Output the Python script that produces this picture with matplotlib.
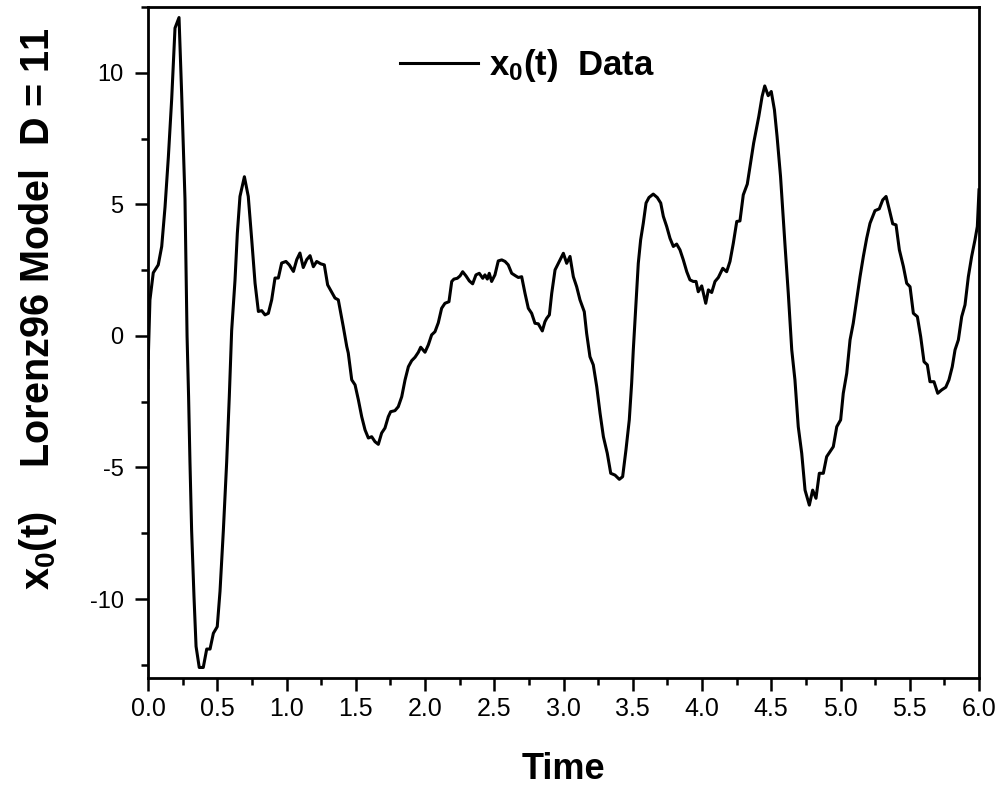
import matplotlib
matplotlib.use("Agg")
import matplotlib.pyplot as plt
from matplotlib.ticker import MultipleLocator

# ---- data ----
time = [0.000, 0.014, 0.038, 0.074, 0.099, 0.123, 0.147, 0.171, 0.195, 0.224,
        0.243, 0.267, 0.282, 0.293, 0.303, 0.315, 0.332, 0.347, 0.370, 0.399,
        0.424, 0.448, 0.472, 0.500, 0.520, 0.544, 0.568, 0.587, 0.604, 0.628,
        0.645, 0.664, 0.696, 0.724, 0.749, 0.773, 0.797, 0.821, 0.845, 0.869,
        0.893, 0.917, 0.941, 0.965, 0.996, 1.020, 1.050, 1.074, 1.097, 1.121,
        1.146, 1.170, 1.194, 1.218, 1.247, 1.273, 1.297, 1.326, 1.350, 1.374,
        1.410, 1.435, 1.446, 1.471, 1.495, 1.519, 1.543, 1.567, 1.591, 1.615,
        1.639, 1.663, 1.687, 1.711, 1.735, 1.752, 1.783, 1.807, 1.832, 1.856,
        1.880, 1.904, 1.928, 1.952, 1.969, 2.000, 2.024, 2.048, 2.072, 2.096,
        2.120, 2.144, 2.173, 2.193, 2.209, 2.233, 2.253, 2.272, 2.296, 2.320,
        2.344, 2.368, 2.392, 2.417, 2.433, 2.450, 2.464, 2.481, 2.505, 2.529,
        2.554, 2.578, 2.601, 2.626, 2.655, 2.674, 2.698, 2.722, 2.746, 2.770,
        2.794, 2.818, 2.847, 2.866, 2.879, 2.898, 2.915, 2.939, 2.963, 2.999,
        3.023, 3.047, 3.071, 3.095, 3.119, 3.150, 3.167, 3.191, 3.215, 3.240,
        3.264, 3.288, 3.316, 3.341, 3.372, 3.403, 3.427, 3.451, 3.475, 3.492,
        3.504, 3.521, 3.540, 3.557, 3.576, 3.596, 3.617, 3.648, 3.677, 3.702,
        3.721, 3.745, 3.769, 3.793, 3.817, 3.841, 3.865, 3.890, 3.913, 3.937,
        3.957, 3.973, 3.998, 4.027, 4.046, 4.070, 4.094, 4.118, 4.150, 4.178,
        4.202, 4.226, 4.251, 4.274, 4.298, 4.327, 4.347, 4.373, 4.410, 4.434,
        4.453, 4.478, 4.500, 4.523, 4.542, 4.567, 4.600, 4.623, 4.648, 4.671,
        4.695, 4.720, 4.744, 4.775, 4.799, 4.823, 4.847, 4.876, 4.900, 4.924,
        4.948, 4.973, 5.001, 5.020, 5.045, 5.069, 5.092, 5.117, 5.141, 5.165,
        5.189, 5.213, 5.249, 5.280, 5.305, 5.329, 5.353, 5.377, 5.401, 5.425,
        5.454, 5.478, 5.502, 5.526, 5.555, 5.579, 5.603, 5.627, 5.646, 5.675,
        5.702, 5.731, 5.760, 5.783, 5.807, 5.827, 5.851, 5.875, 5.899, 5.923,
        5.947, 5.971, 5.988, 6.000]

x0 = [-1.20, 1.37, 2.40, 2.70, 3.40, 4.90, 6.80, 9.00, 11.70, 12.10,
      9.20, 5.20, 0.00, -2.30, -4.80, -7.40, -9.90, -11.80, -12.60, -12.60,
      -11.90, -11.90, -11.30, -11.05, -9.70, -7.40, -4.80, -2.30, 0.20, 2.10,
      3.90, 5.30, 6.05, 5.30, 3.65, 2.00, 0.93, 0.96, 0.80, 0.86,
      1.37, 2.20, 2.20, 2.77, 2.83, 2.70, 2.45, 2.90, 3.15, 2.60,
      2.90, 3.05, 2.63, 2.83, 2.74, 2.70, 1.94, 1.67, 1.44, 1.37,
      0.35, -0.40, -0.65, -1.67, -1.86, -2.43, -3.07, -3.57, -3.88, -3.83,
      -4.02, -4.12, -3.69, -3.50, -3.07, -2.88, -2.84, -2.69, -2.31, -1.67,
      -1.17, -0.94, -0.81, -0.62, -0.43, -0.62, -0.34, 0.04, 0.16, 0.50,
      1.05, 1.24, 1.30, 2.07, 2.16, 2.19, 2.28, 2.44, 2.28, 2.09,
      1.98, 2.32, 2.38, 2.19, 2.32, 2.16, 2.38, 2.07, 2.32, 2.85,
      2.89, 2.83, 2.70, 2.38, 2.28, 2.22, 2.25, 1.62, 1.05, 0.86,
      0.48, 0.46, 0.19, 0.54, 0.67, 0.80, 1.62, 2.51, 2.76, 3.14,
      2.76, 3.02, 2.25, 1.87, 1.37, 0.92, 0.10, -0.79, -1.10, -1.93,
      -2.94, -3.83, -4.46, -5.22, -5.29, -5.45, -5.35, -4.33, -3.19, -1.80,
      -0.53, 0.99, 2.76, 3.65, 4.28, 5.05, 5.26, 5.39, 5.26, 5.05,
      4.54, 4.16, 3.71, 3.40, 3.49, 3.27, 2.89, 2.44, 2.13, 2.07,
      2.07, 1.68, 1.90, 1.24, 1.75, 1.65, 2.07, 2.22, 2.57, 2.44,
      2.83, 3.52, 4.35, 4.37, 5.36, 5.77, 6.44, 7.33, 8.34, 9.10,
      9.50, 9.13, 9.29, 8.59, 7.58, 6.06, 3.40, 1.62, -0.53, -1.67,
      -3.45, -4.46, -5.86, -6.43, -5.86, -6.17, -5.22, -5.22, -4.59, -4.40,
      -4.21, -3.45, -3.19, -2.18, -1.42, -0.15, 0.48, 1.37, 2.25, 3.02,
      3.71, 4.28, 4.76, 4.83, 5.17, 5.30, 4.79, 4.26, 4.22, 3.27,
      2.64, 2.00, 1.87, 0.86, 0.73, -0.03, -0.98, -1.10, -1.74, -1.74,
      -2.18, -2.05, -1.95, -1.67, -1.17, -0.53, -0.15, 0.73, 1.18, 2.25,
      3.02, 3.65, 4.16, 5.55]

x_ticks = [0.0, 0.5, 1.0, 1.5, 2.0, 2.5, 3.0, 3.5, 4.0, 4.5, 5.0, 5.5, 6.0]
y_ticks = [-10, -5, 0, 5, 10]
legend_label = r"x$_\mathbf{0}$(t)  Data"
x_label = "Time"
y_label = r"x$_\mathbf{0}$(t)    Lorenz96 Model  D = 11"

# ---- style ----
plt.rcParams['font.family'] = ['Liberation Sans', 'DejaVu Sans']
plt.rcParams['mathtext.fontset'] = 'custom'
plt.rcParams['mathtext.rm'] = 'Liberation Sans'
plt.rcParams['mathtext.bf'] = 'Liberation Sans:bold'
plt.rcParams['mathtext.it'] = 'Liberation Sans:italic'

fig = plt.figure(figsize=(10.01, 7.86), dpi=100)
ax = fig.add_axes([148/1001, 1 - 678/786, (979-148)/1001, (678-7)/786])

ax.plot(time, x0, color='black', lw=2.2, label=legend_label)

ax.set_xlim(0, 6)
ax.set_ylim(-13, 12.5)
ax.set_xticks(x_ticks)
ax.set_xticklabels([f"{v:.1f}" for v in x_ticks])
ax.set_yticks(y_ticks)
ax.set_yticklabels([str(v) for v in y_ticks])
ax.xaxis.set_minor_locator(MultipleLocator(0.25))
ax.yaxis.set_minor_locator(MultipleLocator(2.5))

for s in ax.spines.values():
    s.set_linewidth(2.0)
ax.tick_params(which='major', direction='out', length=9.5, width=1.8)
ax.tick_params(which='minor', direction='out', length=5.0, width=1.8)
ax.tick_params(axis='x', which='major', labelsize=18, pad=4)
ax.tick_params(axis='y', which='major', labelsize=17, pad=8)
ax.tick_params(top=False, right=False, which='both')

ax.set_xlabel(x_label, fontsize=26, fontweight='bold')
ax.xaxis.set_label_coords(0.5, -0.11)
ax.set_ylabel(y_label, fontsize=28.5, fontweight='bold')
ax.yaxis.set_label_coords(-0.107, 0.55)

leg = ax.legend(loc='center left', bbox_to_anchor=(400/1001, 1 - 66/786),
                bbox_transform=fig.transFigure, frameon=False,
                borderpad=0, borderaxespad=0, handlelength=2.25,
                handletextpad=0.3, prop={'size': 25, 'weight': 'bold'})
for h in leg.get_lines():
    h.set_linewidth(2.2)

fig.savefig("out.png", dpi=100)
